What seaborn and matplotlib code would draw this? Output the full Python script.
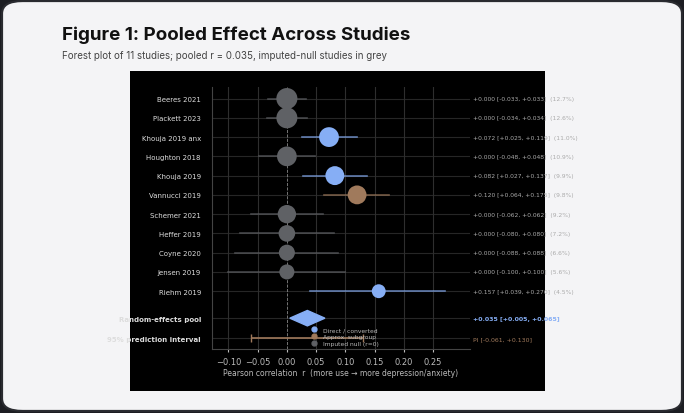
import matplotlib
matplotlib.use("Agg")
import matplotlib.pyplot as plt
import seaborn as sns
import pandas as pd
from matplotlib.patches import FancyBboxPatch, Polygon
from matplotlib.lines import Line2D

studies = ["Beeres 2021","Plackett 2023","Khouja 2019 anx","Houghton 2018","Khouja 2019",
           "Vannucci 2019","Schemer 2021","Heffer 2019","Coyne 2020","Jensen 2019","Riehm 2019"]
r = [0.0,0.0,0.072,0.0,0.082,0.120,0.0,0.0,0.0,0.0,0.157]
lo = [-0.033,-0.034,0.025,-0.048,0.027,0.064,-0.062,-0.080,-0.088,-0.100,0.039]
hi = [0.033,0.034,0.119,0.048,0.137,0.175,0.062,0.080,0.088,0.100,0.270]
weight = [12.7,12.6,11.0,10.9,9.9,9.8,9.2,7.2,6.6,5.6,4.5]
kind = ["Imputed null (r=0)","Imputed null (r=0)","Direct / converted","Imputed null (r=0)","Direct / converted",
        "Approx. subgroup","Imputed null (r=0)","Imputed null (r=0)","Imputed null (r=0)","Imputed null (r=0)","Direct / converted"]
pool = [0.035, 0.005, 0.065]
pi = [-0.061, 0.130]

palette = {"Direct / converted":"#86aef5","Approx. subgroup":"#a07a5c","Imputed null (r=0)":"#5f6165"}
df = pd.DataFrame(dict(study=studies, r=r, lo=lo, hi=hi, w=weight, kind=kind))
df["y"] = range(len(df))

fig = plt.figure(figsize=(6.84,4.14), dpi=100)
fig.patch.set_facecolor("#1c1d22")
fig.patches.append(FancyBboxPatch((0.003,0.005),0.994,0.99,boxstyle="round,pad=0,rounding_size=0.03",
    transform=fig.transFigure, facecolor="#f4f4f6", edgecolor="#2a2b30", lw=1.5, zorder=-2))
fig.patches.append(FancyBboxPatch((130/684,1-392/414),(545-130)/684,(392-72)/414,boxstyle="square,pad=0",
    transform=fig.transFigure, facecolor="black", edgecolor="none", zorder=-1))
fig.text(62/684,1-35/414,"Figure 1: Pooled Effect Across Studies",fontsize=13.5,fontweight="bold",
         color="#111",va="center",family="Inter")
fig.text(62/684,1-56/414,"Forest plot of 11 studies; pooled r = 0.035, imputed-null studies in grey",
         fontsize=7,color="#444",va="center",family="Inter")

ax = fig.add_axes([212/684,1-350/414,(470-212)/684,(350-88)/414])
ax.set_zorder(5)
ax.set_facecolor("black")
ypool, ypi = 11.4, 12.45
for i,row in df.iterrows():
    ax.axhline(row.y,color="#262626",lw=0.8,zorder=0)
    ax.plot([row.lo,row.hi],[row.y,row.y],color=palette[row.kind],lw=1.2,alpha=0.7,zorder=2)
    ax.text(1.01,row.y,f"{row.r:+.3f} [{row.lo:+.3f}, {row.hi:+.3f}]  ({row.w:.1f}%)",
            transform=ax.get_yaxis_transform(),fontsize=4.3,color="#aaa",va="center")
sns.scatterplot(data=df,x="r",y="y",hue="kind",size="w",sizes=(100,230),palette=palette,
                legend=False,ax=ax,zorder=3,edgecolor="none")
for yy in [ypool,ypi]:
    ax.axhline(yy,color="#262626",lw=0.8,zorder=0)
ax.add_patch(Polygon([[pool[1],ypool],[pool[0],ypool-0.4],[pool[2],ypool],[pool[0],ypool+0.4]],
             closed=True,color="#86aef5",zorder=3))
ax.errorbar([pool[0]],[ypi],xerr=[[pool[0]-pi[0]],[pi[1]-pool[0]]],color="#a07a5c",capsize=3,lw=1.2,zorder=2)
ax.text(1.01,ypool,f"{pool[0]:+.3f} [{pool[1]:+.3f}, {pool[2]:+.3f}]",transform=ax.get_yaxis_transform(),
        fontsize=4.5,color="#86aef5",fontweight="bold",va="center")
ax.text(1.01,ypi,f"PI [{pi[0]:+.3f}, {pi[1]:+.3f}]",transform=ax.get_yaxis_transform(),
        fontsize=4.5,color="#a07a5c",va="center")
ax.axvline(0,color="#888",ls="--",lw=0.6,zorder=1)
ax.set_xlim(-0.128,0.313)
ax.set_ylim(13.0,-0.6)
ax.set_xticks([-0.1,-0.05,0,0.05,0.1,0.15,0.2,0.25])
ax.set_xticklabels(["−0.10","−0.05","0.00","0.05","0.10","0.15","0.20","0.25"])
for xt in [-0.1,-0.05,0.05,0.1,0.15,0.2,0.25]:
    ax.axvline(xt,color="#2e2e2e",lw=0.8,zorder=0)
ax.set_yticks(list(df.y)+[ypool,ypi])
ax.set_yticklabels(studies+["Random-effects pool","95% prediction interval"])
for t in ax.get_yticklabels()[-2:]:
    t.set_fontweight("bold")
ax.tick_params(axis="y",length=0,labelsize=5,colors="#ddd",pad=8)
ax.tick_params(axis="x",labelsize=6,colors="#bbb",length=2)
ax.set_xlabel("Pearson correlation  r  (more use → more depression/anxiety)",fontsize=5.5,color="#bbb",labelpad=2)
ax.set_ylabel("")
for s in ["top","right"]:
    ax.spines[s].set_visible(False)
for s in ["left","bottom"]:
    ax.spines[s].set_color("#444")
handles=[Line2D([],[],marker="o",ls="",color=c,markersize=3.5,label=k) for k,c in palette.items()]
leg=ax.legend(handles=handles,loc="lower left",bbox_to_anchor=(0.35,-0.01),fontsize=4.3,frameon=False,
              handletextpad=0.5,labelspacing=0.3)
for t in leg.get_texts(): t.set_color("#bbb")
fig.savefig("out.png",dpi=100,facecolor=fig.get_facecolor())
